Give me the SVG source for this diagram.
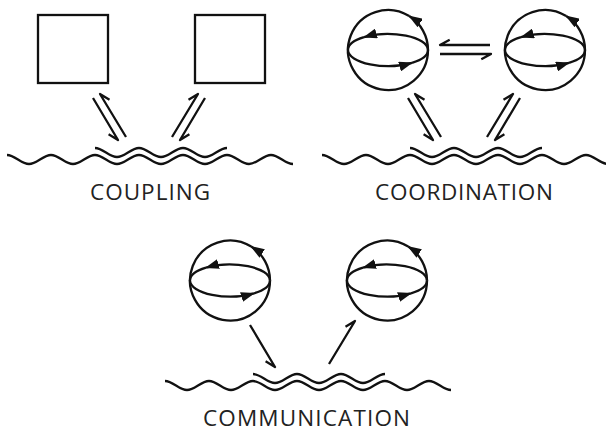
<svg xmlns="http://www.w3.org/2000/svg" xmlns:xlink="http://www.w3.org/1999/xlink" width="606" height="432" viewBox="0 0 606 432">
  <style>
    .ln { fill: none; stroke: #111; stroke-width: 2.3; stroke-linejoin: round; }
    .h { fill: none; stroke: #111; stroke-width: 2.3; stroke-linejoin: round; stroke-linecap: butt; }
    .box { fill: #fff; stroke: #111; stroke-width: 2.3; }
    .lbl { font-family: "Open Sans", "Liberation Sans", sans-serif; font-size: 22.5px; fill: #222; text-anchor: middle; }
  </style>
  <defs>
    <marker id="head" viewBox="0 0 14 10" refX="13" refY="5" markerWidth="14" markerHeight="10" markerUnits="userSpaceOnUse" orient="auto">
      <path d="M0 0 L14 5 L0 10 Z" fill="#111"/>
    </marker>
    <!-- rotating sphere: circle with a meridian arrow, equator with two arrows -->
    <g id="sphere">
      <path class="ln" d="M40 0 A40 40 0 0 0 21.2 -33.9" marker-end="url(#head)"/>
      <path class="ln" d="M21.2 -33.9 A40 40 0 1 0 40 0"/>
      <path class="ln" d="M40 0 A40 16 0 0 0 -24 -12.8" marker-end="url(#head)"/>
      <path class="ln" d="M-24 -12.8 A40 16 0 0 0 -40 0"/>
      <path class="ln" d="M-40 0 A40 16 0 0 0 24 12.8" marker-end="url(#head)"/>
      <path class="ln" d="M24 12.8 A40 16 0 0 0 40 0"/>
    </g>
    <!-- shared medium: long wave with a shorter parallel wave on top -->
    <g id="medium">
      <path class="ln" d="M7 155 c7.9 0 14.1 9 22 9 s14.1 -9 22 -9 s14.1 9 22 9 s14.1 -9 22 -9 s14.1 9 22 9 s14.1 -9 22 -9 s14.1 9 22 9 s14.1 -9 22 -9 s14.1 9 22 9 s14.1 -9 22 -9 s14.1 9 22 9 s14.1 -9 22 -9 s14.1 9 22 9"/>
      <path class="ln" d="M95 148 c7.9 0 14.1 9 22 9 s14.1 -9 22 -9 s14.1 9 22 9 s14.1 -9 22 -9 s14.1 9 22 9 s14.1 -9 22 -9"/>
    </g>
  </defs>

  <!-- COUPLING -->
  <g id="coupling-a"><rect class="box" x="38" y="15" width="70" height="68"/></g>
  <g id="coupling-b"><rect class="box" x="195" y="15" width="70" height="68"/></g>
  <g id="coupling-medium"><use xlink:href="#medium"/></g>
  <g id="coupling-label"><text class="lbl" x="150" y="200" textLength="120" lengthAdjust="spacing">COUPLING</text></g>

  <!-- COORDINATION -->
  <g id="coordination-a"><use xlink:href="#sphere" x="388" y="50"/></g>
  <g id="coordination-b"><use xlink:href="#sphere" x="545" y="50"/></g>
  <g id="coordination-medium"><use xlink:href="#medium" x="315" y="0"/></g>
  <g id="coordination-label"><text class="lbl" x="464" y="200" textLength="178" lengthAdjust="spacing">COORDINATION</text></g>

  <!-- COMMUNICATION -->
  <g id="communication-a"><use xlink:href="#sphere" x="230" y="280.5"/></g>
  <g id="communication-b"><use xlink:href="#sphere" x="387" y="280.5"/></g>
  <g id="communication-medium"><use xlink:href="#medium" x="158" y="226"/></g>
  <g id="communication-label"><text class="lbl" x="306.5" y="426" textLength="207" lengthAdjust="spacing">COMMUNICATION</text></g>

  <!-- connectors (half-headed arrows) -->
  <g id="connectors">
    <path class="h" d="M93 98 L118 140 L108.6 134.3"/>
    <path class="h" d="M126 137 L100 94 L109.5 99.7"/>
    <path class="h" d="M172 137 L198 94 L188.5 99.7"/>
    <path class="h" d="M205 98 L180 140 L189.4 134.3"/>

    <path class="h" d="M408 98 L433 140 L423.6 134.3"/>
    <path class="h" d="M441 137 L415 94 L424.5 99.7"/>
    <path class="h" d="M487 137 L513 94 L503.5 99.7"/>
    <path class="h" d="M520 98 L495 140 L504.4 134.3"/>
    <path class="h" d="M490 45 L440 45 L449.7 39.8"/>
    <path class="h" d="M440 54 L491 54 L481.3 59.2"/>

    <path class="h" d="M250 325 L275 367 L265.6 361.3"/>
    <path class="h" d="M329 364 L355 321 L345.5 326.7"/>
  </g>
</svg>
